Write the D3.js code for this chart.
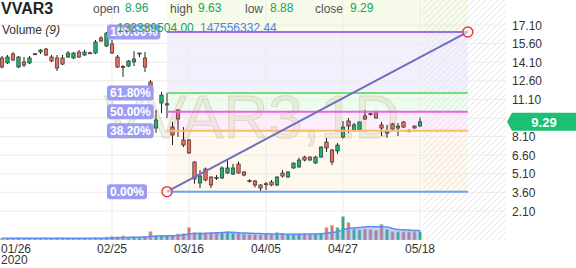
<!DOCTYPE html>
<html>
<head>
<meta charset="utf-8">
<script src="https://cdn.jsdelivr.net/npm/d3@7"></script>
<style>
  body { margin: 0; background: #fff; }
  svg { font-family: Arial, "Liberation Sans", sans-serif; }
</style>
</head>
<body>
<div id="chart"></div>
<script>
// daily candles, VVAR3
const opens = [14.44,14.04,14.76,13.71,14.12,14.04,14.78,14.92,15.16,14.52,
  14.44,14.44,14.52,14.44,14.92,14.68,14.86,14.84,16.05,15.41,
  15.57,14.52,13.76,13.79,14.12,14.84,14.44,12.50,8.79,10.81,
  10.65,8.87,10.25,7.83,7.83,6.05,4.36,5.49,4.84,4.80,
  4.76,5.16,5.08,5.89,5.25,4.55,4.52,4.20,4.30,4.44,
  4.20,5.16,4.84,5.57,5.65,6.45,6.45,5.97,6.45,7.66,
  7.02,6.94,8.07,9.36,8.63,8.63,9.76,9.95,10.08,9.04,
  8.39,9.12,8.79,9.28,8.58,8.95,8.96];
const highs = [14.60,14.68,14.92,14.60,14.52,14.60,14.84,15.16,15.24,14.68,
  14.68,14.68,15.00,14.92,15.08,15.08,14.95,15.89,16.20,16.54,
  15.89,14.68,13.87,14.28,15.00,14.86,14.92,12.66,10.25,11.70,
  11.62,9.28,10.30,8.87,7.90,6.10,5.41,5.60,4.90,5.00,
  5.70,6.20,5.90,6.10,5.30,4.65,4.60,4.25,4.44,4.60,
  4.90,5.40,5.30,6.00,6.40,6.55,6.50,6.55,7.30,7.99,
  7.10,7.58,9.36,9.60,9.20,9.30,10.25,10.00,10.20,9.28,
  9.04,9.20,9.20,9.36,8.70,9.00,9.63];
const lows = [13.60,13.95,14.20,13.63,13.71,13.95,14.68,14.76,14.60,14.12,
  13.39,13.87,14.44,14.36,14.44,14.60,14.76,14.76,15.73,15.33,
  14.76,13.63,12.91,13.71,13.79,14.50,13.31,11.29,8.39,10.00,
  9.60,7.42,8.07,7.26,6.70,4.30,3.95,4.50,3.95,4.60,
  4.70,5.10,5.00,5.10,4.90,4.40,4.00,3.70,3.79,4.10,
  4.10,4.80,4.80,5.50,5.60,6.10,6.15,5.90,6.40,6.86,
  5.81,6.70,7.95,8.39,8.50,8.60,9.44,9.80,9.55,8.15,
  7.99,8.60,8.15,8.80,8.45,8.75,8.88];
const closes = [13.71,14.52,14.28,14.52,13.87,14.44,14.74,15.08,14.68,14.20,
  13.63,13.95,14.84,14.84,14.52,14.92,14.82,15.73,15.81,16.45,
  14.84,13.71,13.71,14.20,14.36,14.84,13.71,11.45,9.44,11.45,
  10.75,8.23,9.52,7.42,6.78,4.68,4.92,4.60,4.20,4.74,
  5.57,5.57,5.57,5.16,5.00,4.50,4.20,3.95,4.26,4.20,
  4.84,4.92,5.25,5.97,6.21,6.21,6.21,6.45,7.26,7.18,
  6.05,7.42,8.87,8.95,9.04,9.28,9.52,9.90,9.60,8.79,
  8.55,8.71,8.95,8.87,8.55,8.79,9.29];
// volume in millions
const volumes = [30,25,28,35,30,25,22,28,30,25,
  35,30,25,22,25,28,24,35,30,45,
  53,50,64,45,48,40,55,133,70,72,
  68,75,96,100,197,117,120,110,115,105,
  118,133,110,105,95,85,88,80,85,90,
  117,107,90,85,95,100,90,95,105,197,
  235,197,373,277,170,160,175,165,150,250,
  170,130,130,130,130,130,133.39];

const tickIdx = [0, 20, 34, 48, 62, 76];
const tickLabels = ["01/26", "02/25", "03/16", "04/05", "04/27", "05/18"];
const priceTicks = [17.10, 15.60, 14.10, 12.60, 11.10, 9.60, 8.10, 6.60, 5.10, 3.60, 2.10];

const fibLevels = [1, 0.618, 0.5, 0.382, 0];
const fibNames = ["100.00%", "61.80%", "50.00%", "38.20%", "0.00%"];
const fibColors = ["#9a6ef0", "#72e072", "#ee5fe2", "#ffb86e", "#6aa2f6"];
const fibFills = ["#f3f0fe", "#eefcef", "#fdeefb", "#fef8ef"];
const fibStart = [30, 3.66];
const fibEnd = [84.7, 16.54];

const quoteNames = ["open", "high", "low", "close"];
const quoteValues = [8.96, 9.63, 8.88, 9.29];
const volText = ["133389504.00", "147556332.44"];
const maPeriod = 9;

const W = 576, H = 268, plotRight = 506, plotBottom = 240;

const svg = d3.select('#chart').append('svg')
  .attr('width', W).attr('height', H);

const x = d3.scaleLinear().domain([0, 76]).range([2, 420]);
const y = d3.scaleLinear().domain([2.10, 17.10]).range([211, 25]);
const yv = d3.scaleLinear().domain([0, 400]).range([plotBottom, 215]);

const defs = svg.append('defs');
const pat = defs.append('pattern')
  .attr('id', 'hatch').attr('patternUnits', 'userSpaceOnUse')
  .attr('width', 6).attr('height', 6);
pat.append('path').attr('d', 'M-1,7 L7,-1 M-1,1 L1,-1 M5,7 L7,5')
  .attr('stroke', '#e4e4e4').attr('stroke-width', 1);
defs.append('clipPath').attr('id', 'plotClip')
  .append('rect').attr('x', 0).attr('y', 0).attr('width', plotRight).attr('height', plotBottom);

const plot = svg.append('g').attr('clip-path', 'url(#plotClip)');

// fib zones
const fx0 = x(fibStart[0]), fx1 = x(fibEnd[0]);
const range = fibEnd[1] - fibStart[1];
const levelY = l => y(fibStart[1] + l * range);
plot.append('rect')
  .attr('x', fx0).attr('y', 0).attr('width', fx1 - fx0).attr('height', levelY(1))
  .attr('fill', '#f7fbea');
fibFills.forEach((c, i) => {
  plot.append('rect')
    .attr('x', fx0).attr('width', fx1 - fx0)
    .attr('y', levelY(fibLevels[i]))
    .attr('height', levelY(fibLevels[i + 1]) - levelY(fibLevels[i]))
    .attr('fill', c);
});

// future hatch
plot.append('rect')
  .attr('x', x(76) + 3).attr('y', 0).attr('width', plotRight - x(76) - 3).attr('height', plotBottom)
  .attr('fill', 'url(#hatch)');

// grid
plot.selectAll('.hg').data(priceTicks).enter().append('line')
  .attr('x1', 0).attr('x2', plotRight)
  .attr('y1', d => y(d)).attr('y2', d => y(d))
  .attr('stroke', '#ececec');
plot.selectAll('.vg').data(tickIdx.slice(1)).enter().append('line')
  .attr('x1', d => x(d)).attr('x2', d => x(d))
  .attr('y1', 0).attr('y2', plotBottom)
  .attr('stroke', '#ececec');

// watermark
plot.append('text')
  .attr('x', 104).attr('y', 138)
  .attr('font-size', 62)
  .attr('fill', 'rgba(215,205,170,0.30)')
  .attr('stroke', 'rgba(185,175,140,0.35)')
  .attr('stroke-width', 1)
  .text('VVAR3,1D');

// volume
const bw = 3;
plot.selectAll('.vol').data(volumes).enter().append('rect')
  .attr('x', (d, i) => x(i) - bw / 2)
  .attr('y', d => yv(d))
  .attr('width', bw)
  .attr('height', d => plotBottom - yv(d))
  .attr('fill', (d, i) => closes[i] >= opens[i] ? '#1fb36b' : '#ee6a5c')
  .attr('stroke', '#c4c4c4').attr('stroke-width', 0.8);

const ma = volumes.map((v, i) => {
  const s = volumes.slice(Math.max(0, i - maPeriod + 1), i + 1);
  return d3.mean(s);
});
plot.append('path')
  .datum(ma)
  .attr('d', d3.area().x((d, i) => x(i)).y0(plotBottom).y1(d => yv(d)).curve(d3.curveMonotoneX))
  .attr('fill', 'rgba(110,150,235,0.40)');
plot.append('path')
  .datum(ma)
  .attr('d', d3.line().x((d, i) => x(i)).y(d => yv(d)).curve(d3.curveMonotoneX))
  .attr('fill', 'none').attr('stroke', '#5a8ef0').attr('stroke-width', 1.5);

// candles
const cw = 3.4;
const candles = plot.selectAll('.c').data(opens).enter().append('g');
candles.append('line')
  .attr('x1', (d, i) => x(i)).attr('x2', (d, i) => x(i))
  .attr('y1', (d, i) => y(highs[i])).attr('y2', (d, i) => y(lows[i]))
  .attr('stroke', '#222').attr('stroke-width', 1);
candles.append('rect')
  .attr('x', (d, i) => x(i) - cw / 2)
  .attr('y', (d, i) => y(Math.max(opens[i], closes[i])))
  .attr('width', cw)
  .attr('height', (d, i) => Math.max(1, Math.abs(y(opens[i]) - y(closes[i]))))
  .attr('fill', (d, i) => closes[i] >= opens[i] ? '#1fb36b' : '#ee6a5c')
  .attr('stroke', '#333').attr('stroke-width', 0.7);

// fib lines
fibLevels.forEach((l, i) => {
  plot.append('line')
    .attr('x1', fx0).attr('x2', fx1)
    .attr('y1', levelY(l)).attr('y2', levelY(l))
    .attr('stroke', fibColors[i]).attr('stroke-width', 2);
});
plot.append('line')
  .attr('x1', fx0).attr('y1', y(fibStart[1]))
  .attr('x2', fx1).attr('y2', y(fibEnd[1]))
  .attr('stroke', '#6e6ec0').attr('stroke-width', 2);
[fibStart, fibEnd].forEach(p => {
  plot.append('circle')
    .attr('cx', x(p[0])).attr('cy', y(p[1])).attr('r', 5)
    .attr('fill', 'rgba(255,255,255,0.5)')
    .attr('stroke', '#f03a3a').attr('stroke-width', 1.5);
});

// fib labels
fibLevels.forEach((l, i) => {
  const g = svg.append('g');
  const t = g.append('text')
    .attr('x', 110).attr('y', levelY(l) + 4.5)
    .attr('font-size', 12).attr('font-weight', 'bold')
    .attr('fill', '#fff')
    .text(fibNames[i]);
  const w = t.node().getComputedTextLength();
  g.insert('rect', 'text')
    .attr('x', 107).attr('y', levelY(l) - 7.5)
    .attr('width', w + 6).attr('height', 15).attr('rx', 3)
    .attr('fill', '#9c9cf2');
});

// header
svg.append('text').attr('x', 1).attr('y', 14)
  .attr('font-size', 16).attr('font-weight', 'bold').attr('fill', '#222')
  .text('VVAR3');
const qx = [93, 170, 245, 315], vx = [125, 198, 270, 350];
quoteNames.forEach((n, i) => {
  svg.append('text').attr('x', qx[i]).attr('y', 13)
    .attr('font-size', 12).attr('fill', '#555').text(n);
  svg.append('text').attr('x', vx[i]).attr('y', 12)
    .attr('font-size', 12).attr('fill', '#15a35e').text(quoteValues[i].toFixed(2));
});
const vl = svg.append('text').attr('x', 2).attr('y', 34)
  .attr('font-size', 12).attr('fill', '#333');
vl.append('tspan').text('Volume ');
vl.append('tspan').attr('font-style', 'italic').text('(9)');
svg.append('text').attr('x', 117).attr('y', 32)
  .attr('font-size', 12).attr('fill', '#15a35e').text(volText[0]);
svg.append('text').attr('x', 200).attr('y', 32)
  .attr('font-size', 12).attr('fill', '#4f83e6').text(volText[1]);

// price axis
svg.selectAll('.pt').data(priceTicks).enter().append('text')
  .attr('x', 512).attr('y', d => y(d) + 4.5)
  .attr('font-size', 12).attr('fill', '#333')
  .text(d => d.toFixed(2));

// time axis
svg.selectAll('.tt').data(tickIdx).enter().append('text')
  .attr('x', d => d === 0 ? 1 : x(d))
  .attr('y', 253)
  .attr('text-anchor', d => d === 0 ? 'start' : 'middle')
  .attr('font-size', 12).attr('fill', '#333')
  .text((d, i) => tickLabels[i]);
svg.append('text').attr('x', 1).attr('y', 264)
  .attr('font-size', 12).attr('fill', '#333').text('2020');

// last price label
const ly = y(quoteValues[3]);
svg.append('path')
  .attr('d', `M507,${ly} L512,${ly - 9} L576,${ly - 9} L576,${ly + 9} L512,${ly + 9} Z`)
  .attr('fill', '#1dbf72');
svg.append('text').attr('x', 544).attr('y', ly + 5)
  .attr('text-anchor', 'middle')
  .attr('font-size', 13).attr('font-weight', 'bold').attr('fill', '#fff')
  .text(quoteValues[3].toFixed(2));
</script>
</body>
</html>
